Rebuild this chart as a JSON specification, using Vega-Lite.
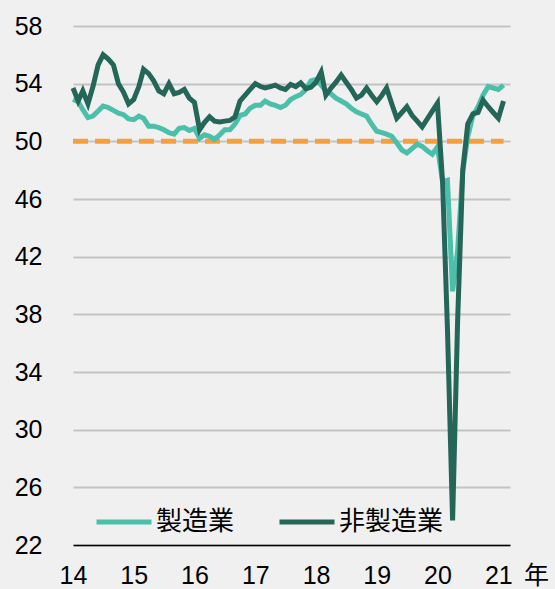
{
  "$schema": "https://vega.github.io/schema/vega-lite/v6.json",
  "width": 437,
  "height": 519,
  "autosize": {"type": "none"},
  "padding": {"left": 73, "top": 26, "right": 45, "bottom": 44},
  "background": "#f0f0f0",
  "config": {"view": {"stroke": null}, "font": "Liberation Sans"},
  "layer": [
    {
      "data": {"values": [{"start": "2014-01", "end": "2021-02", "ref": 50}]},
      "mark": {"type": "rule", "color": "#f79f3a", "strokeWidth": 5, "strokeDash": [15, 7]},
      "encoding": {
        "x": {"field": "start", "type": "temporal",
          "scale": {"type": "utc", "domain": [{"year": 2014, "month": 1, "date": 1, "utc": true}, {"year": 2021, "month": 3, "date": 12, "utc": true}]},
          "axis": {"title": "年", "format": "%y", "values": [{"year": 2014, "month": 1, "date": 1, "utc": true}, {"year": 2015, "month": 1, "date": 1, "utc": true}, {"year": 2016, "month": 1, "date": 1, "utc": true}, {"year": 2017, "month": 1, "date": 1, "utc": true}, {"year": 2018, "month": 1, "date": 1, "utc": true}, {"year": 2019, "month": 1, "date": 1, "utc": true}, {"year": 2020, "month": 1, "date": 1, "utc": true}, {"year": 2021, "month": 1, "date": 1, "utc": true}],
            "grid": false, "ticks": false, "domain": true, "domainColor": "#000000", "domainWidth": 1.5,
            "labelFontSize": 25, "labelPadding": 18, "labelColor": "#000000", "labelFlush": false, "labelOverlap": false,
            "titleFont": "Noto Sans CJK JP", "titleFontSize": 25, "titleFontWeight": "normal", "titleColor": "#000000",
            "titleX": 463, "titleY": 38, "titleAlign": "center", "titleBaseline": "alphabetic", "titleAnchor": null}},
        "x2": {"field": "end"},
        "y": {"field": "ref", "type": "quantitative",
          "scale": {"domain": [22, 58], "nice": false, "zero": false},
          "axis": {"title": null, "values": [22, 26, 30, 34, 38, 42, 46, 50, 54, 58], "grid": true, "gridColor": "#c3c3c3", "gridWidth": 2,
            "domain": false, "ticks": false, "labelFontSize": 25, "labelPadding": 31, "labelColor": "#000000"}}
      }
    },
    {
      "data": {"values": [
        {"d": "2014-01", "製造業": 52.9, "非製造業": 53.7},
        {"d": "2014-02", "製造業": 52.75, "非製造業": 52.8},
        {"d": "2014-03", "製造業": 52.2, "非製造業": 53.5},
        {"d": "2014-04", "製造業": 51.65, "非製造業": 52.6},
        {"d": "2014-05", "製造業": 51.75, "非製造業": 53.8},
        {"d": "2014-06", "製造業": 52.1, "非製造業": 55.3},
        {"d": "2014-07", "製造業": 52.45, "非製造業": 56.0},
        {"d": "2014-08", "製造業": 52.35, "非製造業": 55.7},
        {"d": "2014-09", "製造業": 52.15, "非製造業": 55.3},
        {"d": "2014-10", "製造業": 51.95, "非製造業": 54.0},
        {"d": "2014-11", "製造業": 51.85, "非製造業": 53.4},
        {"d": "2014-12", "製造業": 51.55, "非製造業": 52.6},
        {"d": "2015-01", "製造業": 51.5, "非製造業": 52.9},
        {"d": "2015-02", "製造業": 51.75, "非製造業": 53.8},
        {"d": "2015-03", "製造業": 51.6, "非製造業": 55.0},
        {"d": "2015-04", "製造業": 51.05, "非製造業": 54.7},
        {"d": "2015-05", "製造業": 51.05, "非製造業": 54.2},
        {"d": "2015-06", "製造業": 50.95, "非製造業": 53.5},
        {"d": "2015-07", "製造業": 50.8, "非製造業": 53.3},
        {"d": "2015-08", "製造業": 50.6, "非製造業": 54.0},
        {"d": "2015-09", "製造業": 50.5, "非製造業": 53.3},
        {"d": "2015-10", "製造業": 50.9, "非製造業": 53.4},
        {"d": "2015-11", "製造業": 50.95, "非製造業": 53.6},
        {"d": "2015-12", "製造業": 50.75, "非製造業": 53.0},
        {"d": "2016-01", "製造業": 50.9, "非製造業": 52.7},
        {"d": "2016-02", "製造業": 50.2, "非製造業": 50.8},
        {"d": "2016-03", "製造業": 50.45, "非製造業": 51.3},
        {"d": "2016-04", "製造業": 50.35, "非製造業": 51.7},
        {"d": "2016-05", "製造業": 50.15, "非製造業": 51.4},
        {"d": "2016-06", "製造業": 50.45, "非製造業": 51.35},
        {"d": "2016-07", "製造業": 50.8, "非製造業": 51.4},
        {"d": "2016-08", "製造業": 50.8, "非製造業": 51.45},
        {"d": "2016-09", "製造業": 51.2, "非製造業": 51.7},
        {"d": "2016-10", "製造業": 51.8, "非製造業": 52.8},
        {"d": "2016-11", "製造業": 51.9, "非製造業": 53.2},
        {"d": "2016-12", "製造業": 52.3, "非製造業": 53.6},
        {"d": "2017-01", "製造業": 52.5, "非製造業": 54.0},
        {"d": "2017-02", "製造業": 52.5, "非製造業": 53.8},
        {"d": "2017-03", "製造業": 52.8, "非製造業": 53.7},
        {"d": "2017-04", "製造業": 52.6, "非製造業": 53.8},
        {"d": "2017-05", "製造業": 52.5, "非製造業": 53.9},
        {"d": "2017-06", "製造業": 52.35, "非製造業": 53.7},
        {"d": "2017-07", "製造業": 52.5, "非製造業": 53.6},
        {"d": "2017-08", "製造業": 52.9, "非製造業": 53.95},
        {"d": "2017-09", "製造業": 53.1, "非製造業": 53.8},
        {"d": "2017-10", "製造業": 53.25, "非製造業": 54.05},
        {"d": "2017-11", "製造業": 53.6, "非製造業": 53.65},
        {"d": "2017-12", "製造業": 54.2, "非製造業": 53.75},
        {"d": "2018-01", "製造業": 54.3, "非製造業": 54.1},
        {"d": "2018-02", "製造業": 53.9, "非製造業": 54.8},
        {"d": "2018-03", "製造業": 53.5, "非製造業": 53.2},
        {"d": "2018-04", "製造業": 53.3, "非製造業": 53.7},
        {"d": "2018-05", "製造業": 53.0, "非製造業": 54.1},
        {"d": "2018-06", "製造業": 52.8, "非製造業": 54.6},
        {"d": "2018-07", "製造業": 52.6, "非製造業": 54.1},
        {"d": "2018-08", "製造業": 52.3, "非製造業": 53.6},
        {"d": "2018-09", "製造業": 52.05, "非製造業": 53.0},
        {"d": "2018-10", "製造業": 51.9, "非製造業": 53.2},
        {"d": "2018-11", "製造業": 51.75, "非製造業": 53.7},
        {"d": "2018-12", "製造業": 51.2, "非製造業": 53.2},
        {"d": "2019-01", "製造業": 50.7, "非製造業": 52.75},
        {"d": "2019-02", "製造業": 50.6, "非製造業": 53.2},
        {"d": "2019-03", "製造業": 50.5, "非製造業": 53.7},
        {"d": "2019-04", "製造業": 50.35, "非製造業": 52.6},
        {"d": "2019-05", "製造業": 49.9, "非製造業": 51.6},
        {"d": "2019-06", "製造業": 49.4, "非製造業": 52.0},
        {"d": "2019-07", "製造業": 49.2, "非製造業": 52.4},
        {"d": "2019-08", "製造業": 49.5, "非製造業": 51.8},
        {"d": "2019-09", "製造業": 49.8, "非製造業": 51.4},
        {"d": "2019-10", "製造業": 49.65, "非製造業": 51.0},
        {"d": "2019-11", "製造業": 49.35, "非製造業": 51.55},
        {"d": "2019-12", "製造業": 49.1, "非製造業": 52.1},
        {"d": "2020-01", "製造業": 49.6, "非製造業": 52.65},
        {"d": "2020-02", "製造業": 47.2, "非製造業": 47.1},
        {"d": "2020-03", "製造業": 47.3, "非製造業": 37.0},
        {"d": "2020-04", "製造業": 39.6, "非製造業": 23.7},
        {"d": "2020-05", "製造業": 42.4, "非製造業": 37.5},
        {"d": "2020-06", "製造業": 47.9, "非製造業": 48.0},
        {"d": "2020-07", "製造業": 50.3, "非製造業": 51.2},
        {"d": "2020-08", "製造業": 51.8, "非製造業": 51.9},
        {"d": "2020-09", "製造業": 52.4, "非製造業": 52.0},
        {"d": "2020-10", "製造業": 53.2, "非製造業": 52.85},
        {"d": "2020-11", "製造業": 53.8, "非製造業": 52.4},
        {"d": "2020-12", "製造業": 53.7, "非製造業": 52.0},
        {"d": "2021-01", "製造業": 53.6, "非製造業": 51.6},
        {"d": "2021-02", "製造業": 53.9, "非製造業": 52.8}
      ]},
      "transform": [{"fold": ["製造業", "非製造業"], "as": ["series", "value"]}],
      "mark": {"type": "line", "strokeWidth": 5},
      "encoding": {
        "x": {"field": "d", "type": "temporal"},
        "y": {"field": "value", "type": "quantitative"},
        "color": {"field": "series", "type": "nominal",
          "scale": {"domain": ["製造業", "非製造業"], "range": ["#4bbfa9", "#246658"]},
          "legend": {"orient": "none", "legendX": 21, "legendY": 466, "direction": "horizontal", "title": null,
            "symbolType": "stroke", "symbolStrokeWidth": 5, "symbolSize": 3025,
            "labelFont": "Noto Sans CJK JP", "labelFontSize": 26, "labelColor": "#000000", "labelOffset": 2, "columnPadding": 34}}
      }
    }
  ]
}
